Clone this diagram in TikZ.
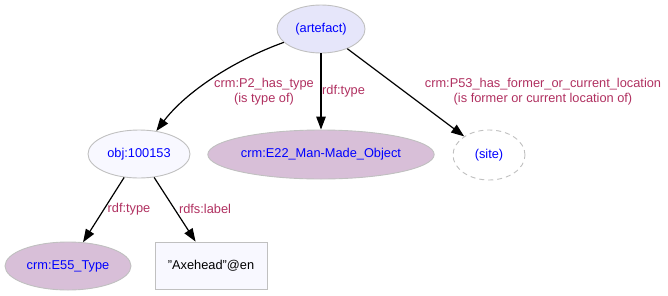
\documentclass[tikz,border=0pt]{standalone}
\usepackage{fontspec}
\setmainfont{Liberation Sans}
\usetikzlibrary{arrows.meta,shapes.geometric}
\definecolor{classfill}{HTML}{D8BFD8}
\definecolor{instfill}{HTML}{E6E6FA}
\definecolor{litfill}{HTML}{F8F8FF}
\definecolor{nodeline}{HTML}{C0C0C0}
\definecolor{proptext}{HTML}{B03060}
\begin{document}
\begin{tikzpicture}[x=1pt,y=-1pt,
  every node/.style={font=\fontsize{12.8}{15}\selectfont},
  res/.style={ellipse, draw=nodeline, line width=0.9pt, text=blue, inner sep=0pt},
  lit/.style={rectangle, draw=nodeline, line width=0.9pt, fill=litfill, text=black, inner sep=0pt},
  prop/.style={text=proptext, inner sep=0pt, align=center},
  edge/.style={draw=black, line width=1.2pt, -{Triangle[length=13pt,width=9.5pt]}}]
\useasboundingbox (0,0) rectangle (668,295);

% resources
\node[res, fill=instfill, minimum width=88pt, minimum height=48pt] (artefact) at (321,29) {(artefact)};
\node[res, fill=litfill, minimum width=102pt, minimum height=48pt] (obj) at (139,154) {obj:100153};
\node[res, fill=classfill, minimum width=218pt, minimum height=49pt] (e22) at (321,154.5) {crm:E22\_Man-Made\_Object};
\node[res, fill=white, dashed, dash pattern=on 5pt off 4pt, minimum width=72pt, minimum height=50pt] (site) at (489,155) {(site)};
\node[res, fill=classfill, minimum width=126pt, minimum height=48pt] (e55) at (68,266) {crm:E55\_Type};
\node[lit, minimum width=112pt, minimum height=47pt] (axe) at (211,265.5) {"Axehead"@en};

% properties
\draw[edge] (artefact) .. controls (232,61) and (185,93) .. (obj);
\draw[edge] (artefact) -- (e22);
\draw[edge] (artefact) -- (site);
\draw[edge] (obj) -- (e55);
\draw[edge] (obj) -- (axe);

% property labels
\node[prop] (lp2) at (264,91.5) {crm:P2\_has\_type\\(is type of)};
\node[prop, anchor=west] (lt1) at (322,91) {rdf:type};
\node[prop] (lp53) at (543,91.5) {crm:P53\_has\_former\_or\_current\_location\\(is former or current location of)};
\node[prop] (lt2) at (129,209) {rdf:type};
\node[prop] (llab) at (205,209) {rdfs:label};
\end{tikzpicture}
\end{document}
